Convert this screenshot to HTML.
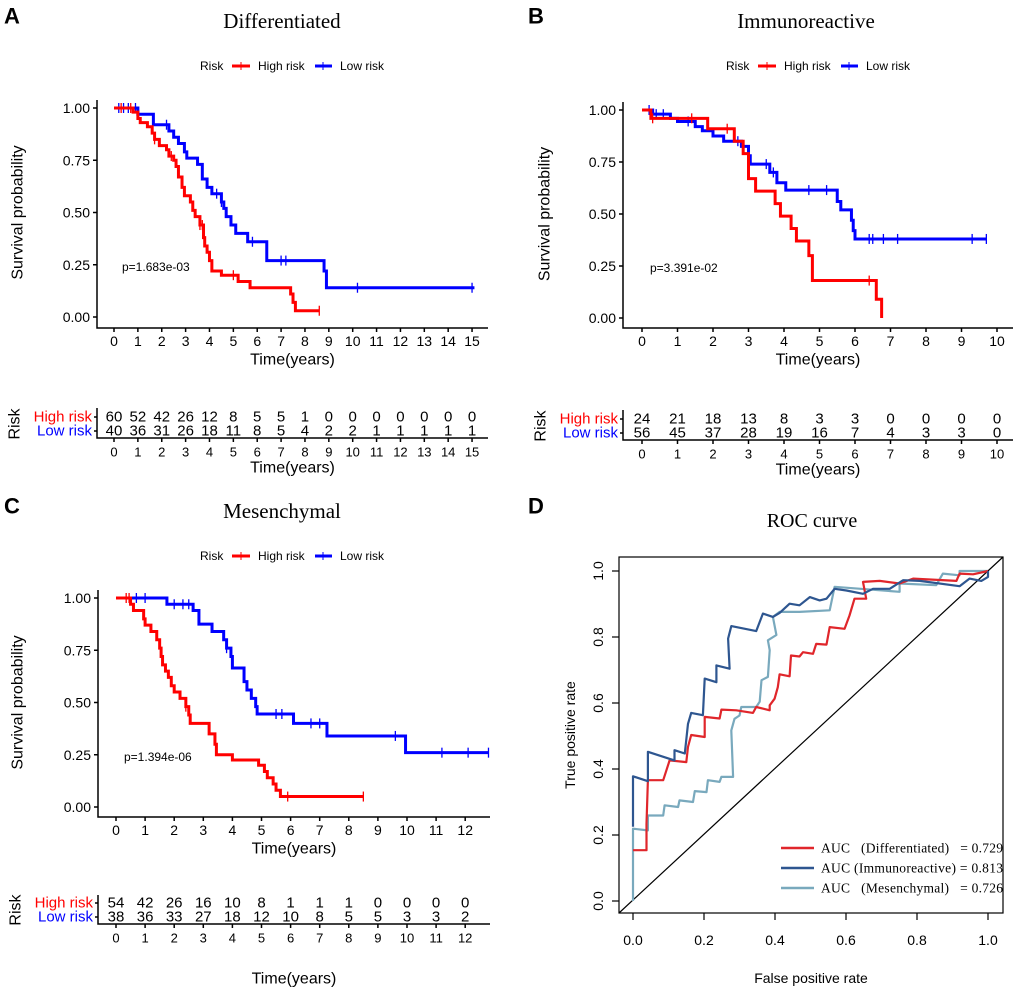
<!DOCTYPE html>
<html><head><meta charset="utf-8"><style>
body{margin:0;background:#fff}
svg{display:block;font-family:"Liberation Sans",Arial,sans-serif}
.serif{font-family:"Liberation Serif",serif}
.pre{white-space:pre}
</style></head><body>
<svg id="fig" width="1020" height="992" viewBox="0 0 1020 992" xmlns="http://www.w3.org/2000/svg"></svg>
<script>
// ---------- Panel A data ----------
const aHighT=[0.8,1.0,1.1,1.4,1.6,1.7,1.9,2.2,2.3,2.5,2.6,2.7,2.85,2.95,3.2,3.3,3.4,3.6,3.75,3.8,3.9,4.0,4.1,4.5,5.2,5.7,7.4,7.5,7.6];
const aHighS=[0.98,0.95,0.93,0.91,0.88,0.85,0.82,0.80,0.77,0.75,0.72,0.67,0.62,0.58,0.55,0.51,0.48,0.44,0.38,0.34,0.31,0.27,0.22,0.20,0.17,0.14,0.11,0.07,0.03];
const aHighEnd=8.6;
const aHighCens=[0.3,0.7,1.7,2.4,3.6,3.7,5.0,8.6];
const aLowT=[1.0,1.65,2.3,2.5,2.7,2.95,3.05,3.5,3.7,3.9,4.1,4.5,4.6,4.7,4.9,5.1,5.6,6.4,8.8,8.9];
const aLowS=[0.97,0.92,0.89,0.86,0.83,0.79,0.76,0.73,0.66,0.62,0.59,0.55,0.52,0.48,0.44,0.40,0.36,0.27,0.22,0.14];
const aLowEnd=15.1;
const aLowCens=[0.2,0.4,0.6,0.9,2.2,4.3,4.5,5.8,7.0,7.2,10.2,15.0];
const aHighRisk=[60,52,42,26,12,8,5,5,1,0,0,0,0,0,0,0];
const aLowRisk=[40,36,31,26,18,11,8,5,4,2,2,1,1,1,1,1];
// ---------- Panel B data ----------
const bHighT=[0.25,1.85,2.6,2.85,3.0,3.2,3.75,3.9,4.2,4.35,4.7,4.8,6.6,6.75];
const bHighS=[0.96,0.91,0.85,0.79,0.67,0.61,0.55,0.49,0.43,0.37,0.30,0.18,0.09,0.0];
const bHighEnd=6.75;
const bHighCens=[0.3,1.4,2.4,6.4];
const bLowT=[0.3,0.8,1.0,1.5,1.7,2.0,2.3,2.8,3.0,3.05,3.6,3.8,4.05,5.5,5.6,5.9,5.95,6.0];
const bLowS=[0.98,0.96,0.945,0.92,0.90,0.875,0.85,0.825,0.78,0.74,0.70,0.65,0.615,0.56,0.52,0.47,0.42,0.38];
const bLowEnd=9.7;
const bLowCens=[0.2,0.4,0.6,1.3,2.7,3.5,3.7,4.7,5.2,6.4,6.5,6.8,7.2,9.3,9.7];
const bHighRisk=[24,21,18,13,8,3,3,0,0,0,0];
const bLowRisk=[56,45,37,28,19,16,7,4,3,3,0];
// ---------- Panel C data ----------
const cHighT=[0.5,0.6,0.95,1.0,1.2,1.4,1.5,1.55,1.6,1.7,1.8,1.9,2.0,2.2,2.4,2.5,2.55,3.2,3.4,3.45,4.0,4.9,5.1,5.2,5.4,5.5,5.65];
const cHighS=[0.97,0.94,0.90,0.87,0.84,0.80,0.76,0.72,0.68,0.65,0.62,0.58,0.55,0.52,0.48,0.44,0.40,0.35,0.30,0.25,0.225,0.20,0.17,0.14,0.11,0.08,0.05];
const cHighEnd=8.5;
const cHighCens=[0.35,0.45,2.4,5.9,8.5];
const cLowT=[1.75,2.65,2.85,3.3,3.7,3.8,3.95,4.0,4.4,4.5,4.65,4.8,4.85,6.1,7.25,9.95];
const cLowS=[0.97,0.94,0.875,0.84,0.80,0.76,0.72,0.665,0.60,0.56,0.52,0.48,0.445,0.40,0.34,0.26];
const cLowEnd=12.8;
const cLowCens=[0.7,1.0,2.0,2.3,2.5,3.8,5.5,5.7,6.7,7.0,9.6,11.2,12.1,12.8];
const cHighRisk=[54,42,26,16,10,8,1,1,1,0,0,0,0];
const cLowRisk=[38,36,33,27,18,12,10,8,5,5,3,3,2];
// ---------- Panel D (ROC) data ----------
const rocDiffFpr=[0,0.038,0.038,0.042,0.085,0.094,0.103,0.150,0.155,0.164,0.202,0.202,0.244,0.249,0.291,0.338,0.347,0.385,0.385,0.399,0.408,0.413,0.441,0.445,0.469,0.479,0.507,0.516,0.545,0.554,0.596,0.610,0.624,0.657,0.648,0.695,0.751,0.789,0.911,0.920,0.958,1];
const rocDiffTpr=[0.154,0.154,0.234,0.366,0.366,0.396,0.426,0.421,0.467,0.503,0.497,0.558,0.553,0.580,0.578,0.570,0.588,0.578,0.593,0.613,0.648,0.687,0.681,0.744,0.741,0.754,0.749,0.779,0.777,0.830,0.825,0.865,0.916,0.916,0.967,0.970,0.962,0.977,0.970,0.992,0.990,1];
const rocImmFpr=[0,0,0.042,0.042,0.117,0.117,0.146,0.155,0.164,0.197,0.202,0.235,0.235,0.272,0.268,0.277,0.347,0.366,0.394,0.413,0.441,0.469,0.498,0.526,0.545,0.568,0.601,0.648,0.676,0.723,0.761,0.808,0.920,0.948,0.981,1.0,1.0];
const rocImmTpr=[0.225,0.378,0.363,0.452,0.426,0.457,0.447,0.537,0.570,0.563,0.674,0.663,0.714,0.704,0.795,0.833,0.818,0.871,0.861,0.873,0.901,0.896,0.921,0.911,0.916,0.946,0.941,0.931,0.946,0.946,0.972,0.970,0.954,0.977,0.970,0.982,1];
const rocMesFpr=[0,0,0.042,0.042,0.085,0.089,0.127,0.131,0.169,0.174,0.207,0.211,0.244,0.249,0.282,0.277,0.286,0.300,0.305,0.347,0.357,0.362,0.380,0.385,0.380,0.404,0.394,0.413,0.469,0.554,0.568,0.751,0.751,0.854,0.873,0.920,0.920,1];
const rocMesTpr=[0,0.219,0.214,0.259,0.259,0.290,0.285,0.305,0.300,0.333,0.330,0.366,0.361,0.376,0.376,0.517,0.552,0.562,0.588,0.588,0.604,0.669,0.679,0.760,0.790,0.806,0.861,0.876,0.876,0.881,0.952,0.937,0.962,0.957,0.992,0.987,1.0,1];
const rocLabels=["AUC   (Differentiated)   = 0.729","AUC (Immunoreactive) = 0.813","AUC   (Mesenchymal)   = 0.726"];
const rocTicks=[0,0.2,0.4,0.6,0.8,1.0];

const NS="http://www.w3.org/2000/svg";
const svg=document.getElementById('fig');
function mk(tag,attrs,parent,text){const e=document.createElementNS(NS,tag);for(const k in attrs)e.setAttribute(k,attrs[k]);if(text!==undefined)e.textContent=text;(parent||svg).appendChild(e);return e;}
function txt(x,y,s,size,opts,parent){opts=opts||{};const a={x:x,y:y,'font-size':size,'text-anchor':opts.anchor||'middle','dominant-baseline':'central',fill:opts.fill||'#000'};if(opts.tr)a.transform=opts.tr;if(opts.cls)a['class']=opts.cls;if(opts.weight)a['font-weight']=opts.weight;return mk('text',a,parent,s);}

function kmPanel(P){
  const g=mk('g',{});
  
  
  const sx=t=>P.x0+t*P.pxYear, sy=s=>P.y0+(P.y1-P.y0)*(1-s);
  const L=txt(P.letterX,P.letterY,P.letter,22,{weight:'bold',anchor:'start'},g);
  
  const T=txt(P.titleX,P.titleY,P.title,21,{cls:'serif'},g);
  
  const lg=mk('g',{},g);
  const lx=P.legX, ly=P.legY;
  txt(lx,ly,'Risk',12,{anchor:'start'},lg);
  mk('line',{x1:lx+32,y1:ly,x2:lx+50,y2:ly,stroke:'#f00','stroke-width':3},lg);
  mk('line',{x1:lx+41,y1:ly-4,x2:lx+41,y2:ly+4,stroke:'#f00','stroke-width':1},lg);
  txt(lx+58,ly,'High risk',12,{anchor:'start'},lg);
  mk('line',{x1:lx+115,y1:ly,x2:lx+132,y2:ly,stroke:'#00f','stroke-width':3},lg);
  mk('line',{x1:lx+123,y1:ly-4,x2:lx+123,y2:ly+4,stroke:'#00f','stroke-width':1},lg);
  txt(lx+140,ly,'Low risk',12,{anchor:'start'},lg);
  const ax=mk('g',{stroke:'#000','stroke-width':1.5,fill:'none'},g);
  
  mk('path',{d:`M${P.axL},${P.y0-8}V${P.axB}H${P.axR}`},ax);
  [0,0.25,0.5,0.75,1].forEach(v=>{mk('line',{x1:P.axL-4,y1:sy(v),x2:P.axL,y2:sy(v)},ax);txt(P.axL-7,sy(v),v.toFixed(2),14,{anchor:'end'},g);});
  for(let i=0;i<=P.maxYear;i++){mk('line',{x1:sx(i),y1:P.axB,x2:sx(i),y2:P.axB+4},ax);txt(sx(i),P.tickY,String(i),14,{},g);}
  txt((P.axL+P.axR)/2,P.tickY+19,'Time(years)',16,{},g);
  const yx=P.yTitleX, yc=(P.y0+P.y1)/2;
  const yt=txt(yx,yc,'Survival probability',16,{tr:`rotate(-90 ${yx} ${yc})`},g);
  
  const pv=txt(P.x0+8,sy(0.25)+2,P.p,12,{anchor:'start'},g);
  
  function curve(Ts,Ss,end,cens,col,nm){
    let d=`M${sx(0)},${sy(1)}`;
    for(let i=0;i<Ts.length;i++){d+=`H${sx(Ts[i])}V${sy(Ss[i])}`;}
    d+=`H${sx(end)}`;
    const p=mk('path',{d:d,stroke:col,'stroke-width':3,fill:'none'},g);
    
    cens.forEach(t=>{let v=1;for(let i=0;i<Ts.length;i++){if(Ts[i]<=t)v=Ss[i];}
      const c=mk('line',{x1:sx(t),y1:sy(v)-5,x2:sx(t),y2:sy(v)+5,stroke:col,'stroke-width':1.3},g);
      });
  }
  curve(P.lowT,P.lowS,P.lowEnd,P.lowC,'#00f','low-risk');
  curve(P.highT,P.highS,P.highEnd,P.highC,'#f00','high-risk');
  const tb=mk('g',{},g);
  mk('path',{d:`M${P.axL},${P.tTop}V${P.tBot}H${P.axR}`,stroke:'#000','stroke-width':1.5,fill:'none'},tb);
  mk('line',{x1:P.axL-3,y1:P.rH,x2:P.axL,y2:P.rH,stroke:'#000','stroke-width':1.5},tb);
  mk('line',{x1:P.axL-3,y1:P.rL,x2:P.axL,y2:P.rL,stroke:'#000','stroke-width':1.5},tb);
  txt(P.axL-5,P.rH,'High risk',15,{anchor:'end',fill:'#f00'},tb);
  txt(P.axL-5,P.rL,'Low risk',15,{anchor:'end',fill:'#00f'},tb);
  const rx=P.axL-82, rc=(P.rH+P.rL)/2;
  txt(rx,rc,'Risk',16,{tr:`rotate(-90 ${rx} ${rc})`},tb);
  P.hr.forEach((v,i)=>txt(sx(i),P.rH,String(v),15,{},tb));
  P.lr.forEach((v,i)=>txt(sx(i),P.rL,String(v),15,{},tb));
  for(let i=0;i<=P.maxYear;i++){mk('line',{x1:sx(i),y1:P.tBot,x2:sx(i),y2:P.tBot+4,stroke:'#000','stroke-width':1.5},tb);txt(sx(i),P.tBot+14,String(i),13,{},tb);}
  txt((P.axL+P.axR)/2,P.tTimeY,'Time(years)',16,{},tb);
}

kmPanel({name:'differentiated',letter:'A',letterX:4,letterY:16,title:'Differentiated',titleX:282,titleY:21,legX:200,legY:66,yTitleX:18,
  x0:114,pxYear:23.87,y0:108,y1:317,axL:97,axB:328,axR:488,maxYear:15,tickY:341,p:'p=1.683e-03',
  highT:aHighT,highS:aHighS,highEnd:aHighEnd,highC:aHighCens,lowT:aLowT,lowS:aLowS,lowEnd:aLowEnd,lowC:aLowCens,
  tTop:408,tBot:438,rH:417,rL:431,hr:aHighRisk,lr:aLowRisk,tTimeY:468});
kmPanel({name:'immunoreactive',letter:'B',letterX:528,letterY:16,title:'Immunoreactive',titleX:806,titleY:21,legX:726,legY:66,yTitleX:545,
  x0:642,pxYear:35.5,y0:110,y1:318,axL:623,axB:328,axR:1013,maxYear:10,tickY:341,p:'p=3.391e-02',
  highT:bHighT,highS:bHighS,highEnd:bHighEnd,highC:bHighCens,lowT:bLowT,lowS:bLowS,lowEnd:bLowEnd,lowC:bLowCens,
  tTop:410,tBot:440,rH:419,rL:433,hr:bHighRisk,lr:bLowRisk,tTimeY:470});
kmPanel({name:'mesenchymal',letter:'C',letterX:4,letterY:506,title:'Mesenchymal',titleX:282,titleY:511,legX:200,legY:556,yTitleX:18,
  x0:116,pxYear:29.1,y0:598,y1:807,axL:98,axB:817,axR:490,maxYear:12,tickY:830,p:'p=1.394e-06',
  highT:cHighT,highS:cHighS,highEnd:cHighEnd,highC:cHighCens,lowT:cLowT,lowS:cLowS,lowEnd:cLowEnd,lowC:cLowCens,
  tTop:895,tBot:924,rH:903,rL:917,hr:cHighRisk,lr:cLowRisk,tTimeY:979});

// ---------- ROC ----------
(function(){
  const g=mk('g',{});
  
  
  const X0=633,X1=988,Y0=901,Y1=571;
  const sx=v=>X0+(X1-X0)*v, sy=v=>Y0-(Y0-Y1)*v;
  const L=txt(528,506,'D',22,{weight:'bold',anchor:'start'},g);
  
  const T=txt(812,521,'ROC curve',20,{cls:'serif'},g);
  
  mk('rect',{x:619,y:557,width:384,height:356,fill:'none',stroke:'#000','stroke-width':1.2},g);
  mk('line',{x1:619,y1:913,x2:1003,y2:557,stroke:'#000','stroke-width':1.2},g);
  rocTicks.forEach(v=>{
    mk('line',{x1:sx(v),y1:913,x2:sx(v),y2:920,stroke:'#000','stroke-width':1.2},g);
    txt(sx(v),940,v.toFixed(1),14,{},g);
    mk('line',{x1:612,y1:sy(v),x2:619,y2:sy(v),stroke:'#000','stroke-width':1.2},g);
    txt(598,sy(v),v.toFixed(1),14,{tr:`rotate(-90 598 ${sy(v)})`},g);
  });
  const xt=txt(811,978,'False positive rate',14,{},g);
  
  const yt=txt(570,735,'True positive rate',14,{tr:'rotate(-90 570 735)'},g);
  
  const series=[[rocDiffFpr,rocDiffTpr,'#e0262b','roc-differentiated'],[rocImmFpr,rocImmTpr,'#2e5690','roc-immunoreactive'],[rocMesFpr,rocMesTpr,'#79a9bd','roc-mesenchymal']];
  [2,0,1].forEach(k=>{const s=series[k];
    const d=s[0].map((f,i)=>(i?'L':'M')+sx(f).toFixed(1)+','+sy(s[1][i]).toFixed(1)).join('');
    const p=mk('path',{d:d,stroke:s[2],'stroke-width':2.2,fill:'none','stroke-linejoin':'round'},g);
    
  });
  const lg=mk('g',{},g);
  const lys=[848,868,888];
  series.forEach((s,i)=>{
    mk('line',{x1:781,y1:lys[i],x2:814,y2:lys[i],stroke:s[2],'stroke-width':2.5},lg);
    const t=txt(821,lys[i],rocLabels[i],13.5,{anchor:'start',cls:'serif pre'},lg);
    t.setAttribute('textLength','182');
    t.setAttribute('lengthAdjust','spacing');
  });
})();
</script>
</body></html>
